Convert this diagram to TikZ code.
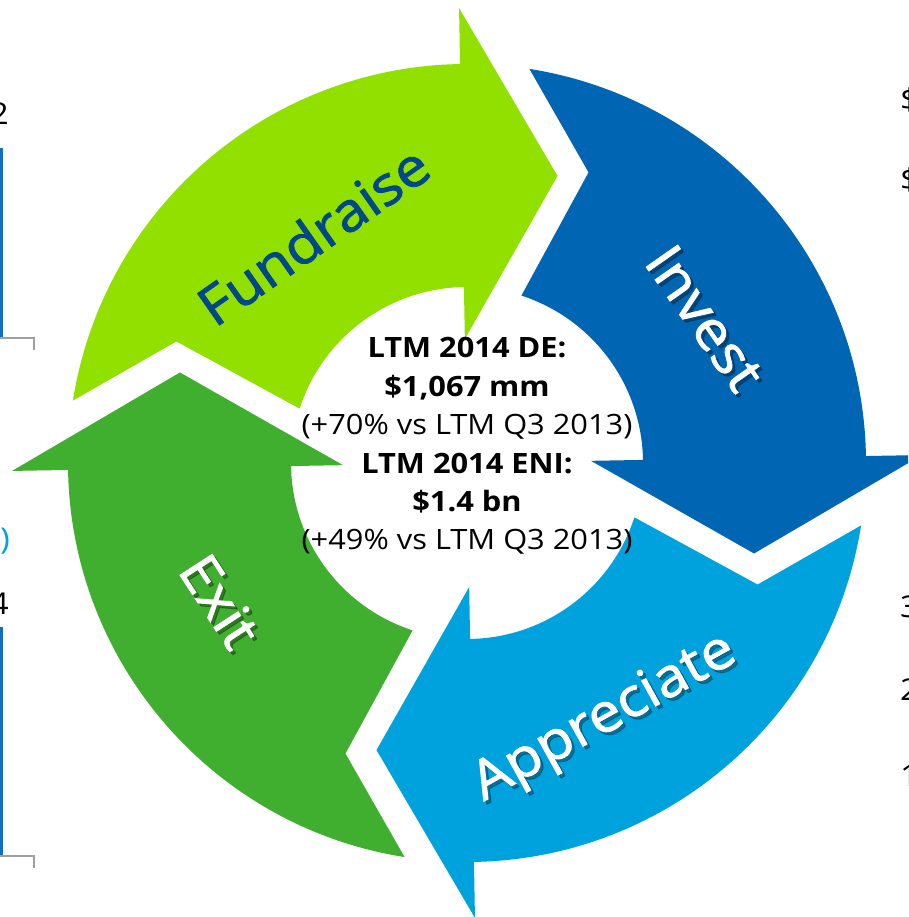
\documentclass[tikz,border=0pt]{standalone}
\usepackage{fontspec}
\setmainfont{Open Sans}
\newfontfamily\widefont[FakeStretch=1.1]{Open Sans}
\newfontfamily\lblfont[FakeStretch=1.08, FakeBold=1.6]{Open Sans}
\definecolor{fundc}{RGB}{146,224,0}
\definecolor{invc}{RGB}{0,101,179}
\definecolor{appc}{RGB}{0,162,222}
\definecolor{exitc}{RGB}{64,174,46}
\definecolor{fundtxt}{RGB}{0,72,137}
\definecolor{barblue}{RGB}{20,110,190}
\definecolor{axisgray}{RGB}{160,160,160}
\definecolor{parblue}{RGB}{0,162,232}
\tikzset{
  ctrbold/.style={font=\widefont\bfseries\fontsize{28}{32}\selectfont, anchor=base, inner sep=0pt, text=black},
  ctrnorm/.style={font=\widefont\fontsize{28}{32}\selectfont, anchor=base, inner sep=0pt, text=black},
  lbltext/.style={font=\lblfont\fontsize{54}{60}\selectfont, inner sep=0pt},
  lblshadow/.style={lbltext, text=black, opacity=0.3},
  edgetext/.style={font=\widefont\fontsize{30}{36}\selectfont, inner sep=0pt, text=black},
  axisline/.style={draw=axisgray, line width=2pt},
  barline/.style={fill=barblue, draw=none}
}
\begin{document}
\begin{tikzpicture}[x=1pt,y=1pt]
\useasboundingbox (0,0) rectangle (908,917);
\clip (0,0) rectangle (908,917);
\coordinate (c) at (467,454);
\foreach \rot/\col in {0/fundc, -90/invc, 180/appc, 90/exitc} {
  \begin{scope}[shift={(c)}, rotate=\rot]
    \fill[\col] (171:399pt) arc[start angle=171, end angle=91, radius=399pt]
      -- (91:455pt) -- (72.5:301pt) -- (91:124pt) -- (91:176pt)
      arc[start angle=91, end angle=162, radius=176pt]
      -- (157.3:315pt) -- cycle;
  \end{scope}
}
% centre text
\node[ctrbold] (l1) at (467,{917-358}) {LTM 2014 DE:};
\node[ctrbold] (l2) at (467,{917-396.4}) {\$1,067 mm};
\node[ctrnorm] (l3) at (467,{917-434.8}) {(+70\% vs LTM Q3 2013)};
\node[ctrbold] (l4) at (467,{917-473.2}) {LTM 2014 ENI:};
\node[ctrbold] (l5) at (467,{917-511.6}) {\$1.4 bn};
\node[ctrnorm] (l6) at (467,{917-550}) {(+49\% vs LTM Q3 2013)};
% labels
\node[lbltext, text=fundtxt, rotate=35] (fund) at (313,{917-235}) {Fundraise};
\node[lblshadow, rotate=-55] (invsh) at (708,{917-321}) {Invest};
\node[lbltext, text=white, rotate=-55] (inv) at (705,{917-318}) {Invest};
\node[lblshadow, rotate=29] (appsh) at (608,{917-722}) {Appreciate};
\node[lbltext, text=white, rotate=29] (app) at (605,{917-719}) {Appreciate};
\node[lblshadow, rotate=-57] (exitsh) at (223,{917-604}) {Exit};
\node[lbltext, text=white, rotate=-57] (exit) at (220,{917-601}) {Exit};
% left edge fragments
\node[edgetext, anchor=base east] (t2) at (9,{917-125}) {2};
\fill[barblue] (0,{917-148}) rectangle (3,{917-338});
\draw[axisline] (0,{917-338}) -- (34,{917-338}) -- (34,{917-350});
\node[edgetext, anchor=base east, text=parblue] (tpar) at (10,{917-550}) {)};
\node[edgetext, anchor=base east] (t4) at (9,{917-615}) {4};
\fill[barblue] (0,{917-627}) rectangle (3,{917-856});
\draw[axisline] (0,{917-856}) -- (34,{917-856}) -- (34,{917-868});
% right edge fragments
\node[edgetext, anchor=base west] (d1) at (900,{917-111}) {\$};
\node[edgetext, anchor=base west] (d2) at (900,{917-191}) {\$};
\node[edgetext, anchor=base west] (r3) at (900,{917-618}) {3};
\node[edgetext, anchor=base west] (r2) at (900,{917-701}) {2};
\node[edgetext, anchor=base west] (r1) at (900,{917-787}) {1};
\end{tikzpicture}
\end{document}
